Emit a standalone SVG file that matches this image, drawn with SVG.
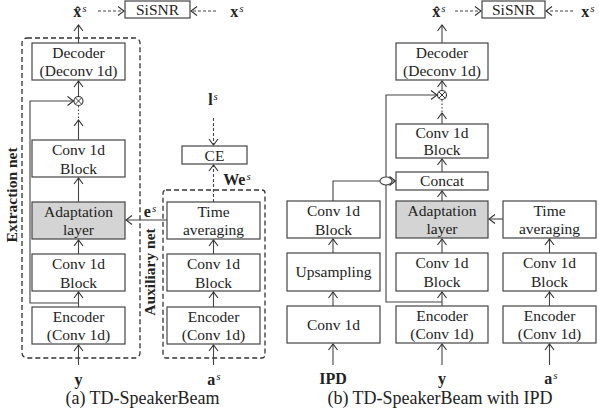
<svg xmlns="http://www.w3.org/2000/svg" width="599" height="417" viewBox="0 0 599 417">
<style>
text{font-family:'Liberation Serif','Times New Roman',Times,'DejaVu Serif',serif}
.box{fill:#fff;stroke:#444;stroke-width:1.2}
.gray{fill:#d4d4d4;stroke:#444;stroke-width:1.2}
.t{font-size:15.5px;fill:#222;text-anchor:middle}
.m{font-size:16px;font-weight:bold;fill:#222;text-anchor:middle}
.sup{font-weight:normal;font-style:italic;font-size:11px}
.cap{font-size:18px;fill:#222;text-anchor:middle}
.lab{font-size:15.5px;font-weight:bold;fill:#222;text-anchor:middle}
.ln{fill:none;stroke:#444;stroke-width:1.1}
.ar{marker-end:url(#arr)}
.dash{stroke-dasharray:3,2}
.dot{stroke-dasharray:1.5,2}
.frame{fill:none;stroke:#333;stroke-width:1.3;stroke-dasharray:5,3}
</style>
<defs>
<marker id="arr" markerUnits="userSpaceOnUse" markerWidth="12" markerHeight="12" viewBox="-7 -6 8 12" refX="0" refY="0" orient="auto">
<path d="M-6,-4.5 L0,0 L-6,4.5" fill="none" stroke="#333" stroke-width="1.1"/>
</marker>
</defs>
<rect width="599" height="417" fill="#fff"/>

<g id="extraction-net">
<rect class="frame" x="22" y="38" width="118" height="320" rx="5"/>
<text class="lab" font-family="Liberation Serif, serif" transform="translate(17,195) rotate(-90)">Extraction net</text>
</g>
<g id="auxiliary-net">
<rect class="frame" x="163" y="190" width="102" height="168" rx="3"/>
<text class="lab" font-family="Liberation Serif, serif" transform="translate(155,272) rotate(-90)">Auxiliary net</text>
</g>

<g id="connectors">
<line class="ln ar dash" x1="98" y1="11" x2="124" y2="11"/>
<line class="ln ar dash" x1="216" y1="11" x2="191" y2="11"/>
<line class="ln ar" x1="78.5" y1="43" x2="78.5" y2="25"/>
<line class="ln ar" x1="78.5" y1="96.5" x2="78.5" y2="81"/>
<line class="ln dot" x1="78.5" y1="106" x2="78.5" y2="119"/>
<line class="ln ar" x1="78.5" y1="140" x2="78.5" y2="120"/>
<line class="ln ar" x1="78.5" y1="202" x2="78.5" y2="178"/>
<line class="ln ar" x1="78.5" y1="254" x2="78.5" y2="240"/>
<line class="ln ar" x1="78.5" y1="307" x2="78.5" y2="292"/>
<line class="ln ar" x1="78.5" y1="365" x2="78.5" y2="345"/>
<polyline class="ln ar" points="78.5,303 30,303 30,101 73.5,101"/>
<line class="ln ar" x1="167" y1="220" x2="126" y2="220"/>
<line class="ln ar dash" x1="213.5" y1="202" x2="213.5" y2="165"/>
<line class="ln ar dash" x1="213.5" y1="118" x2="213.5" y2="145"/>
<line class="ln ar" x1="213.5" y1="254" x2="213.5" y2="240"/>
<line class="ln ar" x1="213.5" y1="307" x2="213.5" y2="292"/>
<line class="ln ar" x1="213.5" y1="365" x2="213.5" y2="345"/>
<line class="ln ar dash" x1="455" y1="11" x2="481" y2="11"/>
<line class="ln ar dash" x1="573" y1="11" x2="546" y2="11"/>
<line class="ln ar" x1="442" y1="43" x2="442" y2="25"/>
<line class="ln ar" x1="442" y1="90.5" x2="442" y2="81"/>
<line class="ln dot" x1="442" y1="100" x2="442" y2="112"/>
<line class="ln ar" x1="442" y1="124" x2="442" y2="113"/>
<line class="ln ar" x1="442" y1="172" x2="442" y2="159"/>
<line class="ln ar" x1="442" y1="201" x2="442" y2="191"/>
<line class="ln ar" x1="442" y1="253" x2="442" y2="239"/>
<line class="ln ar" x1="442" y1="306" x2="442" y2="292"/>
<line class="ln ar" x1="442" y1="365" x2="442" y2="344"/>
<polyline class="ln ar" points="442,302 386,302 386,95 437,95"/>
<polyline class="ln" points="333,201 333,181 380,181"/>
<ellipse cx="386" cy="181" rx="6" ry="4" fill="#fff" stroke="#444" stroke-width="1.1"/>
<line class="ln ar" x1="392" y1="181" x2="395.5" y2="181"/>
<line class="ln ar" x1="333" y1="253" x2="333" y2="239"/>
<line class="ln ar" x1="333" y1="306" x2="333" y2="292"/>
<line class="ln ar" x1="333" y1="365" x2="333" y2="344"/>
<line class="ln ar" x1="503" y1="219" x2="489" y2="219"/>
<line class="ln ar" x1="549.5" y1="253" x2="549.5" y2="239"/>
<line class="ln ar" x1="549.5" y1="306" x2="549.5" y2="292"/>
<line class="ln ar" x1="549.5" y1="365" x2="549.5" y2="344"/>
</g>

<g id="sisnr-a"><rect class="box" x="125" y="1" width="65" height="17"/><text class="t" x="157.5" y="15">SiSNR</text></g>
<g id="xhat-a"><text class="m" x="80" y="17">x̂<tspan class="sup" dx="1" dy="-5">s</tspan></text></g>
<g id="x-a"><text class="m" x="237" y="17">x<tspan class="sup" dx="1" dy="-5">s</tspan></text></g>
<g id="decoder-a"><rect class="box" x="32" y="43" width="93" height="37"/><text class="t" x="78.5" y="58">Decoder</text><text class="t" x="78.5" y="76">(Deconv 1d)</text></g>
<g id="mult-a"><circle cx="78.5" cy="101" r="4.5" fill="#fff" stroke="#333" stroke-width="1.1"/><path d="M75.3,97.8 L81.7,104.2 M81.7,97.8 L75.3,104.2" stroke="#333" stroke-width="1"/></g>
<g id="conv-block-a1"><rect class="box" x="32" y="140" width="93" height="37"/><text class="t" x="78.5" y="155">Conv 1d</text><text class="t" x="78.5" y="174">Block</text></g>
<g id="adapt-a"><rect class="gray" x="32" y="202" width="93" height="37"/><text class="t" x="78.5" y="217">Adaptation</text><text class="t" x="78.5" y="235">layer</text></g>
<g id="conv-block-a2"><rect class="box" x="32" y="254" width="93" height="37"/><text class="t" x="78.5" y="269">Conv 1d</text><text class="t" x="78.5" y="288">Block</text></g>
<g id="encoder-a"><rect class="box" x="32" y="307" width="93" height="37"/><text class="t" x="78.5" y="322">Encoder</text><text class="t" x="78.5" y="340">(Conv 1d)</text></g>
<g id="y-a"><text class="m" x="78.5" y="385">y</text></g>
<g id="l-s"><text class="m" x="213" y="105">l<tspan class="sup" dx="1" dy="-5">s</tspan></text></g>
<g id="ce"><rect class="box" x="182" y="146" width="65" height="18"/><text class="t" x="214.5" y="161">CE</text></g>
<g id="we-label"><text class="m" x="237" y="185">We<tspan class="sup" dx="1" dy="-5">s</tspan></text></g>
<g id="es-label"><text class="m" x="150" y="217">e<tspan class="sup" dx="1" dy="-5">s</tspan></text></g>
<g id="timeavg-a"><rect class="box" x="167" y="202" width="93" height="37"/><text class="t" x="213.5" y="217">Time</text><text class="t" x="213.5" y="235">averaging</text></g>
<g id="conv-block-a3"><rect class="box" x="167" y="254" width="93" height="37"/><text class="t" x="213.5" y="269">Conv 1d</text><text class="t" x="213.5" y="288">Block</text></g>
<g id="encoder-a2"><rect class="box" x="167" y="307" width="93" height="37"/><text class="t" x="213.5" y="322">Encoder</text><text class="t" x="213.5" y="340">(Conv 1d)</text></g>
<g id="as-a"><text class="m" x="214" y="385">a<tspan class="sup" dx="1" dy="-5">s</tspan></text></g>
<g id="caption-a"><text class="cap" x="142.5" y="404">(a) TD-SpeakerBeam</text></g>

<g id="sisnr-b"><rect class="box" x="482" y="1" width="63" height="17"/><text class="t" x="513.5" y="15">SiSNR</text></g>
<g id="xhat-b"><text class="m" x="439" y="17">x̂<tspan class="sup" dx="1" dy="-5">s</tspan></text></g>
<g id="x-b"><text class="m" x="588" y="17">x<tspan class="sup" dx="1" dy="-5">s</tspan></text></g>
<g id="decoder-b"><rect class="box" x="396" y="43" width="92" height="37"/><text class="t" x="442" y="58">Decoder</text><text class="t" x="442" y="76">(Deconv 1d)</text></g>
<g id="mult-b"><circle cx="442" cy="95" r="4.5" fill="#fff" stroke="#333" stroke-width="1.1"/><path d="M438.8,91.8 L445.2,98.2 M445.2,91.8 L438.8,98.2" stroke="#333" stroke-width="1"/></g>
<g id="conv-block-b1"><rect class="box" x="396" y="124" width="92" height="34"/><text class="t" x="442" y="138">Conv 1d</text><text class="t" x="442" y="155">Block</text></g>
<g id="concat"><rect class="box" x="396" y="172" width="92" height="18"/><text class="t" x="442" y="186">Concat</text></g>
<g id="adapt-b"><rect class="gray" x="396" y="201" width="92" height="37"/><text class="t" x="442" y="216">Adaptation</text><text class="t" x="442" y="234">layer</text></g>
<g id="conv-block-b2"><rect class="box" x="396" y="253" width="92" height="38"/><text class="t" x="442" y="268">Conv 1d</text><text class="t" x="442" y="287">Block</text></g>
<g id="encoder-b"><rect class="box" x="396" y="306" width="92" height="37"/><text class="t" x="442" y="321">Encoder</text><text class="t" x="442" y="339">(Conv 1d)</text></g>
<g id="y-b"><text class="m" x="442" y="384">y</text></g>
<g id="ipd-conv-block"><rect class="box" x="287" y="201" width="93" height="37"/><text class="t" x="333.5" y="216">Conv 1d</text><text class="t" x="333.5" y="235">Block</text></g>
<g id="upsampling"><rect class="box" x="287" y="253" width="93" height="38"/><text class="t" x="333.5" y="277">Upsampling</text></g>
<g id="ipd-conv"><rect class="box" x="287" y="306" width="93" height="37"/><text class="t" x="333.5" y="330">Conv 1d</text></g>
<g id="ipd"><text class="m" x="333" y="384">IPD</text></g>
<g id="timeavg-b"><rect class="box" x="503" y="201" width="93" height="37"/><text class="t" x="549.5" y="216">Time</text><text class="t" x="549.5" y="234">averaging</text></g>
<g id="conv-block-b3"><rect class="box" x="503" y="253" width="93" height="38"/><text class="t" x="549.5" y="268">Conv 1d</text><text class="t" x="549.5" y="287">Block</text></g>
<g id="encoder-b2"><rect class="box" x="503" y="306" width="93" height="37"/><text class="t" x="549.5" y="321">Encoder</text><text class="t" x="549.5" y="339">(Conv 1d)</text></g>
<g id="as-b"><text class="m" x="551" y="384">a<tspan class="sup" dx="1" dy="-5">s</tspan></text></g>
<g id="caption-b"><text class="cap" x="440" y="404">(b) TD-SpeakerBeam with IPD</text></g>
</svg>
